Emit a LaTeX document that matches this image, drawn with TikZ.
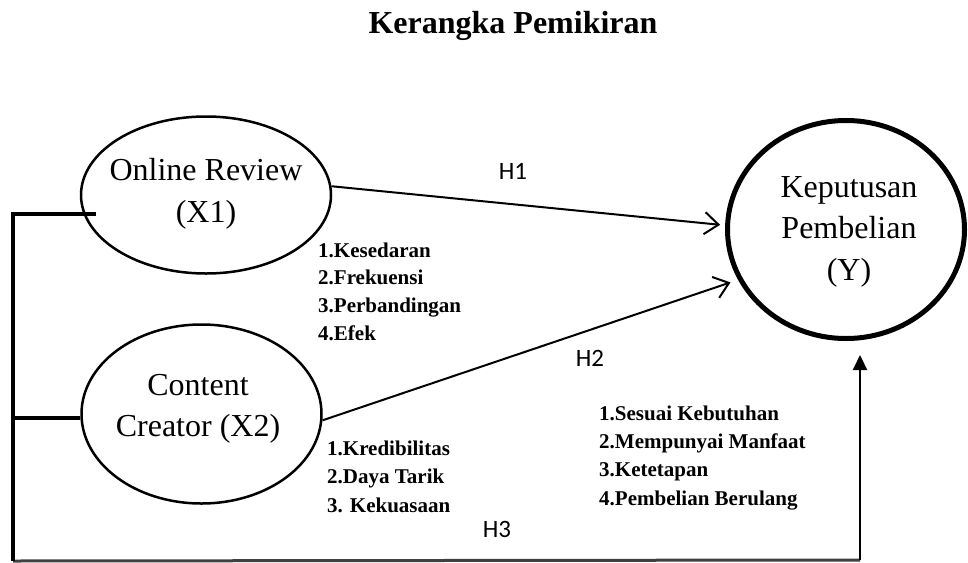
\documentclass[tikz,border=0pt]{standalone}
\usepackage{fontspec}
\setmainfont{Liberation Serif}
\newfontfamily\hfont{Carlito}
\usetikzlibrary{arrows.meta,shapes.geometric}
\begin{document}
\begin{tikzpicture}[x=1pt,y=-1pt,
  ellbox/.style={draw,ellipse,inner sep=0pt,line width=2.5pt},
  ltext/.style={anchor=base,inner sep=0pt,font=\fontsize{32}{38}\selectfont},
  ttext/.style={anchor=base,inner sep=0pt,font=\bfseries\fontsize{32}{38}\selectfont},
  itext/.style={anchor=base west,inner sep=0pt,font=\bfseries\fontsize{21}{25}\selectfont},
  htext/.style={anchor=base,inner sep=0pt,font=\hfont\fontsize{25}{30}\selectfont},
  harrow/.style={line width=2pt,-{Straight Barb[length=14pt,width=22pt,line width=2pt]}},
  bracket/.style={line width=4pt},
  baseline/.style={line width=3pt,draw=black!75},
  uparrow/.style={line width=2.2pt,-{Triangle[length=15pt,width=14pt]}}
]
\useasboundingbox (0,0) rectangle (968,562);

% title
\node[ttext] (title) at (513,33) {Kerangka Pemikiran};

% ellipses
\node[ellbox,minimum width=250pt,minimum height=157pt] (x1) at (206,195) {};
\node[ellbox,minimum width=240pt,minimum height=179pt] (x2) at (201.5,414) {};
\node[ellbox,line width=5pt,minimum width=237pt,minimum height=218pt] (y) at (846,229.5) {};

% ellipse texts
\node[ltext] (x1a) at (206,180) {Online Review};
\node[ltext] (x1b) at (206,222) {(X1)};
\node[ltext] (x2a) at (198,395) {Content};
\node[ltext] (x2b) at (198,436) {Creator (X2)};
\node[ltext] (ya) at (849,197) {Keputusan};
\node[ltext] (yb) at (849,238) {Pembelian};
\node[ltext] (yc) at (849,280) {(Y)};

% indicator lists
\node[itext] (i1a) at (318,257) {1.Kesedaran};
\node[itext] (i1b) at (318,284.7) {2.Frekuensi};
\node[itext] (i1c) at (318,312.3) {3.Perbandingan};
\node[itext] (i1d) at (318,340) {4.Efek};

\node[itext] (i2a) at (327,455) {1.Kredibilitas};
\node[itext] (i2b) at (327,483.5) {2.Daya Tarik};
\node[itext] (i2c) at (327,512) {3. Kekuasaan};

\node[itext] (i3a) at (599,420) {1.Sesuai Kebutuhan};
\node[itext] (i3b) at (599,448.3) {2.Mempunyai Manfaat};
\node[itext] (i3c) at (599,476.6) {3.Ketetapan};
\node[itext] (i3d) at (599,505) {4.Pembelian Berulang};

% hypothesis labels
\node[htext] (h1) at (513,179) {H1};
\node[htext] (h2) at (590,366) {H2};
\node[htext] (h3) at (497,537) {H3};

% arrows H1, H2
\draw[harrow,shorten >=5pt] (x1.4) -- (y.178);
\draw[harrow,shorten >=8pt] (x2.357) -- (y.205);

% left bracket and H3 path
\coordinate (corner) at (13,561);
\coordinate (upfoot) at (860,560);
\draw[baseline] (corner) -- (upfoot);
\draw[bracket] ([xshift=12pt]x1.189) -| (corner);
\draw[bracket] (x2.182) -- (x2.182 -| corner);
\draw[uparrow,shorten >=14pt] (upfoot) -- (upfoot |- y.south);
\end{tikzpicture}
\end{document}
